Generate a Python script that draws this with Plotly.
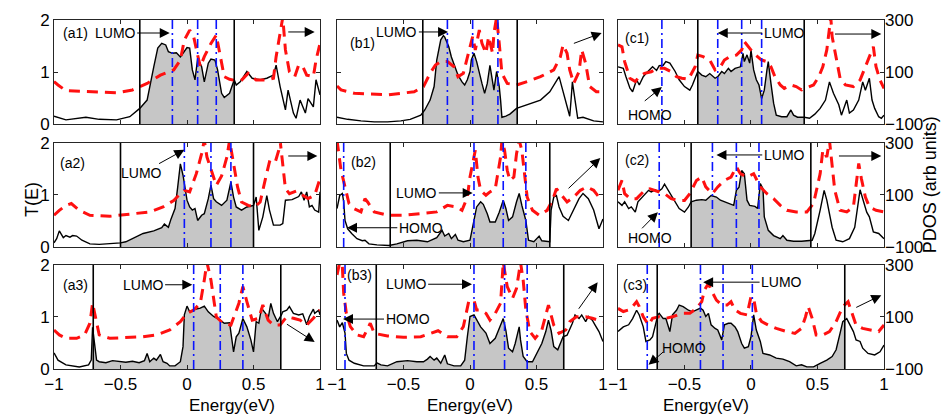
import numpy as np
import plotly.graph_objects as go

# ---------------- data ----------------
# Transmission T(E): energy (eV) and value
a1_energy = [-1.00,-0.91,-0.76,-0.66,-0.53,-0.43,-0.355,-0.30,-0.25,-0.22,-0.19,-0.16,-0.14,-0.11,-0.08,-0.05,-0.03,0.00,0.02,0.04,0.06,0.08,0.11,0.13,0.16,0.18,0.21,0.23,0.26,0.28,0.32,0.355,0.37,0.40,0.45,0.49,0.55,0.60,0.65,0.67,0.70,0.74,0.76,0.80,0.82,0.85,0.89,0.91,0.95,0.97,1.00]
a1_trans = [0.15,0.08,0.13,0.09,0.08,0.14,0.30,0.46,1.10,1.46,1.55,1.52,1.39,1.36,1.37,1.29,1.36,1.47,1.46,1.04,0.85,1.26,1.10,0.81,1.17,1.25,1.23,1.04,0.59,0.51,0.59,0.85,0.75,0.81,1.01,0.88,0.85,0.88,0.94,1.13,0.72,0.27,0.65,0.21,0.11,0.46,0.21,0.49,0.33,0.85,0.56]

a2_energy = [-1.00,-0.98,-0.96,-0.93,-0.91,-0.88,-0.86,-0.83,-0.79,-0.73,-0.66,-0.56,-0.50,-0.46,-0.41,-0.33,-0.25,-0.19,-0.17,-0.14,-0.12,-0.09,-0.07,-0.05,-0.03,-0.02,0.00,0.02,0.04,0.06,0.08,0.11,0.13,0.16,0.18,0.20,0.22,0.26,0.30,0.33,0.35,0.37,0.41,0.45,0.50,0.52,0.54,0.57,0.60,0.62,0.65,0.70,0.72,0.74,0.79,0.84,0.86,0.88,0.90,0.92,0.94,0.96,0.99,1.00]
a2_trans = [0.08,0.16,0.31,0.18,0.22,0.19,0.22,0.21,0.13,0.06,0.05,0.06,0.08,0.10,0.16,0.26,0.31,0.37,0.44,0.38,0.54,0.74,1.15,1.60,1.38,1.22,0.90,0.77,0.71,0.74,0.51,0.61,0.64,0.93,1.19,0.93,0.87,0.80,0.90,1.25,0.96,0.77,0.71,0.77,0.80,0.96,0.32,0.58,0.99,0.71,0.42,0.42,0.45,0.90,0.91,0.97,1.06,0.90,1.06,0.77,0.80,0.71,0.67,1.06]

a3_energy = [-1.00,-0.97,-0.91,-0.81,-0.74,-0.72,-0.71,-0.69,-0.68,-0.66,-0.61,-0.56,-0.51,-0.46,-0.41,-0.36,-0.32,-0.30,-0.28,-0.25,-0.23,-0.20,-0.18,-0.15,-0.13,-0.09,-0.05,-0.03,-0.02,0.00,0.02,0.06,0.10,0.13,0.16,0.20,0.25,0.28,0.32,0.35,0.37,0.39,0.42,0.45,0.48,0.50,0.52,0.54,0.56,0.59,0.61,0.63,0.65,0.68,0.71,0.72,0.75,0.77,0.80,0.84,0.87,0.90,0.92,0.95,0.96,0.99,1.00]
a3_trans = [0.31,0.17,0.08,0.04,0.08,0.17,0.80,0.37,0.17,0.14,0.12,0.16,0.14,0.13,0.15,0.12,0.16,0.30,0.14,0.21,0.17,0.28,0.14,0.11,0.06,0.06,0.14,0.43,1.04,1.21,1.10,1.15,1.17,1.21,1.10,1.01,0.94,0.88,0.89,0.33,0.62,0.69,0.97,0.81,0.56,0.33,0.91,0.88,1.17,1.07,0.97,1.26,1.07,0.91,1.04,1.10,1.13,1.20,1.07,1.04,1.06,0.85,1.01,1.15,1.07,1.13,1.04]

b1_energy = [-1.00,-0.92,-0.82,-0.72,-0.62,-0.52,-0.45,-0.37,-0.34,-0.30,-0.27,-0.25,-0.22,-0.20,-0.19,-0.16,-0.14,-0.11,-0.09,-0.06,-0.04,-0.02,0.00,0.01,0.03,0.05,0.07,0.09,0.11,0.13,0.15,0.17,0.18,0.20,0.22,0.23,0.24,0.27,0.30,0.35,0.43,0.53,0.60,0.65,0.67,0.69,0.72,0.75,0.76,0.77,0.79,0.81,0.85,0.89,0.93,1.00]
b1_trans = [0.13,0.09,0.06,0.04,0.04,0.06,0.09,0.17,0.27,0.46,0.72,1.23,1.62,1.70,1.67,1.49,1.29,1.10,0.94,0.81,0.75,0.85,1.01,1.23,1.36,1.20,0.97,0.78,0.59,0.78,1.13,0.85,0.65,1.01,0.72,0.46,0.13,0.15,0.19,0.30,0.37,0.46,0.62,0.81,0.91,0.72,0.46,0.15,0.46,0.81,0.46,0.11,0.13,0.09,0.06,0.04]

b2_energy = [-1.00,-0.98,-0.96,-0.95,-0.94,-0.92,-0.89,-0.85,-0.81,-0.79,-0.76,-0.70,-0.61,-0.55,-0.47,-0.40,-0.32,-0.25,-0.21,-0.19,-0.16,-0.14,-0.11,-0.09,-0.05,0.00,0.03,0.05,0.08,0.10,0.13,0.15,0.19,0.22,0.25,0.27,0.29,0.32,0.35,0.37,0.39,0.42,0.44,0.48,0.52,0.54,0.60,0.61,0.63,0.65,0.67,0.70,0.74,0.78,0.82,0.85,0.89,0.93,0.97,1.00]
b2_trans = [0.74,0.99,1.03,0.87,0.51,0.35,0.26,0.16,0.12,0.13,0.06,0.04,0.03,0.06,0.12,0.13,0.10,0.18,0.32,0.21,0.26,0.16,0.24,0.13,0.10,0.13,0.51,0.77,0.87,0.82,0.64,0.48,0.48,0.67,0.90,0.74,0.51,0.58,0.87,1.03,0.80,0.51,0.13,0.10,0.21,0.12,0.10,0.71,0.96,0.99,0.77,0.59,0.51,0.71,0.93,1.03,0.93,0.71,0.35,0.54]

b3_energy = [-1.00,-0.98,-0.96,-0.94,-0.93,-0.91,-0.87,-0.80,-0.72,-0.70,-0.67,-0.62,-0.55,-0.47,-0.40,-0.35,-0.32,-0.30,-0.27,-0.25,-0.22,-0.19,-0.17,-0.12,-0.07,-0.04,-0.02,0.00,0.03,0.05,0.08,0.12,0.15,0.19,0.23,0.25,0.27,0.29,0.32,0.34,0.37,0.38,0.40,0.43,0.47,0.50,0.54,0.57,0.59,0.61,0.63,0.66,0.70,0.73,0.77,0.79,0.82,0.84,0.87,0.89,0.92,0.94,0.97,1.00]
b3_trans = [0.94,0.81,0.89,0.69,0.30,0.17,0.11,0.06,0.06,0.12,0.08,0.06,0.14,0.16,0.14,0.14,0.19,0.24,0.17,0.21,0.11,0.27,0.10,0.06,0.06,0.17,0.62,1.01,1.04,0.94,0.81,0.69,0.49,0.59,0.85,0.97,0.74,0.40,0.33,0.49,0.81,0.56,0.24,0.14,0.14,0.30,0.49,0.72,0.94,0.74,0.43,0.37,0.62,0.65,0.88,1.04,0.97,1.04,0.91,1.01,0.94,0.85,0.72,0.53]

c1_energy = [-1.00,-0.96,-0.94,-0.91,-0.89,-0.86,-0.84,-0.81,-0.79,-0.76,-0.74,-0.71,-0.69,-0.66,-0.64,-0.61,-0.57,-0.54,-0.50,-0.46,-0.44,-0.40,-0.37,-0.34,-0.31,-0.27,-0.25,-0.22,-0.20,-0.17,-0.15,-0.12,-0.08,-0.06,-0.05,-0.03,-0.01,0.00,0.02,0.04,0.06,0.08,0.10,0.12,0.13,0.15,0.17,0.19,0.23,0.27,0.30,0.32,0.35,0.40,0.44,0.48,0.52,0.56,0.59,0.62,0.66,0.68,0.72,0.74,0.77,0.81,0.84,0.86,0.89,0.91,0.93,0.96,0.98,1.00]
c1_trans = [1.10,1.07,0.91,0.69,0.62,0.85,0.75,0.91,0.97,1.04,1.10,1.03,1.12,1.13,1.20,1.17,1.01,0.85,0.72,0.65,0.75,1.01,0.94,0.91,0.97,0.88,0.91,1.01,0.97,1.07,1.01,1.07,1.10,1.36,1.20,1.33,1.17,1.42,1.04,0.85,0.75,0.49,0.65,1.04,1.20,0.78,0.40,0.17,0.14,0.14,0.27,0.17,0.13,0.13,0.11,0.19,0.30,0.46,0.81,0.59,0.37,0.17,0.46,0.21,0.27,0.46,0.81,0.65,0.88,0.46,0.30,0.14,0.11,0.17]

c2_energy = [-1.00,-0.97,-0.95,-0.92,-0.90,-0.87,-0.85,-0.81,-0.77,-0.75,-0.72,-0.70,-0.67,-0.65,-0.61,-0.57,-0.54,-0.50,-0.47,-0.45,-0.41,-0.37,-0.34,-0.30,-0.26,-0.23,-0.20,-0.16,-0.13,-0.11,-0.09,-0.07,-0.05,-0.03,-0.01,0.03,0.05,0.07,0.09,0.10,0.13,0.17,0.22,0.24,0.27,0.32,0.38,0.46,0.48,0.52,0.55,0.57,0.61,0.64,0.69,0.74,0.78,0.82,0.84,0.87,0.89,0.92,0.96,1.00]
c2_trans = [0.87,0.80,0.87,0.74,0.77,0.67,0.87,0.99,1.09,1.06,1.10,1.06,1.12,1.21,1.03,0.87,0.74,0.67,0.77,0.87,0.90,0.91,0.90,0.99,0.96,0.90,0.87,0.83,0.80,1.09,1.15,1.47,1.41,0.90,0.80,0.78,0.74,1.22,1.12,0.58,0.32,0.22,0.16,0.22,0.13,0.11,0.11,0.13,0.26,0.71,1.09,0.90,0.38,0.13,0.10,0.16,0.38,1.10,0.93,0.67,0.58,0.29,0.26,0.16]

c3_energy = [-1.00,-0.96,-0.92,-0.89,-0.86,-0.84,-0.81,-0.79,-0.76,-0.74,-0.70,-0.69,-0.66,-0.64,-0.61,-0.59,-0.56,-0.54,-0.51,-0.47,-0.44,-0.41,-0.38,-0.36,-0.34,-0.32,-0.30,-0.27,-0.25,-0.22,-0.20,-0.17,-0.15,-0.12,-0.10,-0.07,-0.05,-0.02,0.00,0.02,0.04,0.07,0.09,0.14,0.19,0.24,0.29,0.34,0.38,0.42,0.47,0.52,0.57,0.61,0.64,0.67,0.69,0.72,0.74,0.77,0.79,0.82,0.84,0.88,0.93,0.97,1.00]
c3_trans = [0.72,0.81,0.85,0.97,1.13,1.04,0.81,0.53,0.56,0.62,1.04,1.07,0.97,0.97,0.72,1.04,1.13,1.23,1.20,1.13,1.10,1.13,1.17,1.13,1.01,1.07,0.85,0.78,0.75,0.56,0.85,0.88,0.88,0.81,0.72,0.49,0.40,0.43,0.62,1.04,0.75,0.53,0.30,0.27,0.21,0.19,0.14,0.06,0.08,0.04,0.04,0.11,0.17,0.24,0.37,0.69,0.91,0.97,0.88,0.72,0.56,0.53,0.40,0.30,0.27,0.33,0.46]

# PDOS (arb units): energy and value
a1_pdos_energy = [-1.00,-0.97,-0.91,-0.76,-0.53,-0.41,-0.30,-0.20,-0.10,-0.05,-0.02,0.02,0.05,0.08,0.10,0.13,0.18,0.22,0.25,0.28,0.32,0.40,0.46,0.52,0.60,0.65,0.67,0.70,0.72,0.74,0.77,0.81,0.84,0.87,0.90,0.95,0.97,1.00]
a1_pdos = [63,50,28,24,20,31,56,88,108,146,223,261,236,165,120,159,210,242,159,82,72,63,95,69,69,76,159,261,310,185,101,82,127,121,88,82,146,210]

a2_pdos_energy = [-1.00,-0.96,-0.91,-0.87,-0.81,-0.73,-0.58,-0.41,-0.28,-0.18,-0.10,-0.05,-0.02,0.02,0.07,0.11,0.13,0.15,0.18,0.22,0.26,0.30,0.32,0.35,0.38,0.41,0.46,0.51,0.55,0.59,0.62,0.66,0.69,0.70,0.72,0.74,0.77,0.82,0.87,0.91,0.96,1.00]
a2_pdos = [22,41,60,67,41,22,18,26,35,54,79,105,118,112,182,259,310,246,195,137,173,246,310,227,131,73,60,54,73,163,227,221,272,310,208,124,105,115,99,86,99,163]

a3_pdos_energy = [-1.00,-0.96,-0.91,-0.83,-0.77,-0.73,-0.71,-0.68,-0.66,-0.58,-0.46,-0.33,-0.23,-0.13,-0.05,0.00,0.05,0.10,0.13,0.15,0.18,0.22,0.27,0.33,0.39,0.42,0.45,0.49,0.54,0.57,0.61,0.65,0.70,0.75,0.80,0.85,0.90,0.95,1.00]
a3_pdos = [50,31,18,18,31,76,153,82,31,18,22,24,31,50,82,114,127,153,242,310,242,101,76,69,153,217,159,88,95,146,88,69,69,101,95,88,69,95,127]

b1_pdos_energy = [-1.00,-0.97,-0.87,-0.62,-0.42,-0.35,-0.30,-0.26,-0.22,-0.17,-0.12,-0.09,-0.05,-0.01,0.02,0.04,0.07,0.09,0.12,0.14,0.17,0.18,0.20,0.22,0.24,0.28,0.35,0.43,0.53,0.63,0.68,0.70,0.73,0.75,0.78,0.82,0.84,0.87,0.90,0.95,1.00]
b1_pdos = [46,31,18,12,24,44,95,127,140,140,120,82,95,172,236,185,261,210,172,236,172,249,310,210,95,56,50,63,82,108,159,204,172,108,56,101,185,133,44,24,24]

b2_pdos_energy = [-1.00,-0.99,-0.97,-0.94,-0.91,-0.87,-0.82,-0.79,-0.77,-0.72,-0.62,-0.50,-0.37,-0.25,-0.17,-0.10,-0.06,-0.02,0.00,0.03,0.04,0.06,0.08,0.12,0.15,0.19,0.23,0.24,0.26,0.28,0.30,0.33,0.35,0.37,0.39,0.41,0.43,0.47,0.52,0.58,0.62,0.65,0.69,0.73,0.78,0.83,0.88,0.93,0.97,1.00]
b2_pdos = [310,272,195,131,67,47,35,86,73,35,22,22,28,35,60,54,41,92,169,246,272,169,118,99,112,124,246,310,272,195,156,169,259,310,272,182,92,41,22,41,79,124,99,73,92,118,131,118,92,79]

b3_pdos_energy = [-1.00,-0.98,-0.96,-0.95,-0.93,-0.90,-0.85,-0.80,-0.75,-0.72,-0.62,-0.50,-0.37,-0.27,-0.24,-0.17,-0.10,-0.05,-0.01,0.03,0.05,0.08,0.12,0.15,0.19,0.23,0.24,0.25,0.28,0.32,0.35,0.38,0.40,0.42,0.45,0.49,0.54,0.59,0.63,0.67,0.72,0.75,0.80,0.87,0.92,0.97,1.00]
b3_pdos = [262,310,294,191,114,63,31,24,76,37,27,22,24,44,47,24,24,63,159,165,127,127,114,88,114,153,255,310,217,172,210,310,242,127,44,18,50,146,69,37,50,82,101,101,95,88,82]

c1_pdos_energy = [-1.00,-0.97,-0.95,-0.91,-0.87,-0.84,-0.80,-0.75,-0.70,-0.65,-0.60,-0.56,-0.52,-0.47,-0.42,-0.40,-0.36,-0.31,-0.27,-0.23,-0.20,-0.16,-0.11,-0.07,-0.05,-0.02,0.02,0.08,0.12,0.15,0.18,0.22,0.25,0.30,0.34,0.38,0.43,0.47,0.51,0.54,0.57,0.59,0.60,0.61,0.64,0.67,0.71,0.77,0.82,0.86,0.89,0.92,0.94,0.97,1.00]
c1_pdos = [204,197,140,76,63,82,95,101,114,114,101,82,76,72,120,165,159,146,108,120,146,159,165,185,217,197,172,146,140,120,82,50,37,50,44,31,41,50,82,120,185,287,310,236,159,76,50,44,69,120,165,197,120,69,37]

c2_pdos_energy = [-1.00,-0.97,-0.95,-0.91,-0.86,-0.81,-0.76,-0.70,-0.65,-0.60,-0.55,-0.50,-0.46,-0.41,-0.37,-0.34,-0.29,-0.25,-0.20,-0.15,-0.11,-0.08,-0.03,0.02,0.07,0.12,0.17,0.22,0.27,0.34,0.42,0.47,0.52,0.54,0.57,0.59,0.61,0.63,0.67,0.72,0.77,0.79,0.81,0.83,0.86,0.89,0.94,1.00]
c2_pdos = [118,156,105,86,86,112,124,112,105,86,79,79,105,156,169,131,105,131,156,169,208,182,169,182,131,105,86,60,41,35,35,67,182,272,246,310,221,118,41,35,54,144,221,163,92,54,41,35]

c3_pdos_energy = [-1.00,-0.96,-0.92,-0.89,-0.86,-0.84,-0.81,-0.77,-0.74,-0.69,-0.64,-0.59,-0.52,-0.46,-0.41,-0.37,-0.35,-0.32,-0.30,-0.26,-0.22,-0.18,-0.15,-0.12,-0.08,-0.03,0.00,0.02,0.04,0.08,0.13,0.19,0.27,0.33,0.38,0.41,0.43,0.46,0.49,0.54,0.59,0.64,0.69,0.73,0.76,0.79,0.84,0.91,0.96,1.00]
c3_pdos = [133,121,127,140,159,140,101,69,95,101,95,101,114,114,133,159,204,229,204,165,146,146,159,127,114,108,178,172,114,82,69,56,44,37,56,101,140,95,31,31,44,82,140,159,114,69,56,50,44,69]

# electrode window (black vertical lines) and molecular orbital energies (blue lines)
a1_window, a2_window, a3_window = [-0.355, 0.355], [-0.50, 0.50], [-0.705, 0.705]
b1_window, b2_window, b3_window = [-0.355, 0.355], [-0.60, 0.60], [-0.705, 0.705]
c1_window, c2_window, c3_window = [-0.40, 0.40], [-0.45, 0.45], [-0.705, 0.705]
a1_orbitals = [-0.11, 0.08, 0.22]
a2_orbitals = [-0.02, 0.18, 0.33]
a3_orbitals = [0.05, 0.25, 0.42]
b1_orbitals = [-0.17, 0.02, 0.21]
b2_orbitals = [-0.95, 0.03, 0.25, 0.42]
b3_orbitals = [-0.94, 0.03, 0.26, 0.43]
c1_orbitals = [-0.67, -0.25, -0.07, 0.08]
c2_orbitals = [-0.69, -0.29, -0.11, 0.06]
c3_orbitals = [-0.78, -0.38, -0.21, 0.01]

x_ticks = [-1, -0.5, 0, 0.5, 1]
x_ticktext = ["\u22121", "\u22120.5", "0", "0.5", "1"]
t_ticks = [0, 1, 2]
pdos_ticks = [-100, 100, 300]
pdos_ticktext = ["\u2212100", "100", "300"]

panels = {
    "a1": (a1_energy, a1_trans, a1_pdos_energy, a1_pdos, a1_window, a1_orbitals),
    "b1": (b1_energy, b1_trans, b1_pdos_energy, b1_pdos, b1_window, b1_orbitals),
    "c1": (c1_energy, c1_trans, c1_pdos_energy, c1_pdos, c1_window, c1_orbitals),
    "a2": (a2_energy, a2_trans, a2_pdos_energy, a2_pdos, a2_window, a2_orbitals),
    "b2": (b2_energy, b2_trans, b2_pdos_energy, b2_pdos, b2_window, b2_orbitals),
    "c2": (c2_energy, c2_trans, c2_pdos_energy, c2_pdos, c2_window, c2_orbitals),
    "a3": (a3_energy, a3_trans, a3_pdos_energy, a3_pdos, a3_window, a3_orbitals),
    "b3": (b3_energy, b3_trans, b3_pdos_energy, b3_pdos, b3_window, b3_orbitals),
    "c3": (c3_energy, c3_trans, c3_pdos_energy, c3_pdos, c3_window, c3_orbitals),
}

# ---------------- layout geometry ----------------
col_dom = [[0.0, 0.3205], [0.341, 0.6614], [0.6795, 1.0]]
row_dom = [[0.702, 1.0], [0.3496, 0.6476], [0.0, 0.298]]
FONT = "Liberation Sans, Arial, Helvetica, sans-serif"
FRAME = "#262626"
TICK_SIZE = 17

fig = go.Figure()
layout = {}
shapes = []
annotations = []

for idx, (name, (E, T, pE, P, win, orbs)) in enumerate(panels.items()):
    k = idx + 1
    r, c = idx // 3, idx % 3
    ks = "" if k == 1 else str(k)
    sk = 9 + k
    E = np.asarray(E, float)
    T = np.asarray(T, float)
    assert len(E) == len(T) and len(pE) == len(P), name

    # gray filled area under T(E) inside the bias window
    lo, hi = win
    inside = (E > lo) & (E < hi)
    fx = np.concatenate([[lo], E[inside], [hi]])
    fy = np.concatenate([[np.interp(lo, E, T)], T[inside], [np.interp(hi, E, T)]])
    fig.add_trace(go.Scatter(x=fx, y=fy, mode="lines", fill="tozeroy",
                             fillcolor="#c6c6c6", line=dict(width=0, color="#c6c6c6"),
                             xaxis="x" + ks, yaxis="y" + ks, showlegend=False,
                             hoverinfo="skip"))
    fig.add_trace(go.Scatter(x=E, y=T, mode="lines", line=dict(color="black", width=1.4),
                             xaxis="x" + ks, yaxis="y" + ks, showlegend=False))
    fig.add_trace(go.Scatter(x=pE, y=P, mode="lines",
                             line=dict(color="#ff1010", width=3, dash="11px,7px"),
                             xaxis="x" + ks, yaxis="y" + str(sk), showlegend=False))

    layout["xaxis" + ks] = dict(
        domain=col_dom[c], anchor="y" + ks, range=[-1, 1],
        tickvals=x_ticks, ticktext=x_ticktext, showticklabels=(r == 2),
        ticks="inside", ticklen=4, tickcolor=FRAME, mirror="ticks",
        showline=True, linecolor=FRAME, linewidth=1, showgrid=False, zeroline=False,
        tickfont=dict(size=TICK_SIZE, color="black", family=FONT))
    layout["yaxis" + ks] = dict(
        domain=row_dom[r], anchor="x" + ks, range=[0, 2],
        tickvals=t_ticks, showticklabels=(c == 0),
        ticks="inside", ticklen=4, tickcolor=FRAME, mirror="ticks",
        showline=True, linecolor=FRAME, linewidth=1, showgrid=False, zeroline=False,
        tickfont=dict(size=TICK_SIZE, color="black", family=FONT))
    layout["yaxis" + str(sk)] = dict(
        overlaying="y" + ks, anchor="x" + ks, side="right", range=[-100, 300],
        tickvals=pdos_ticks, ticktext=pdos_ticktext, showticklabels=(c == 2),
        ticks="", showline=False, showgrid=False, zeroline=False,
        tickfont=dict(size=TICK_SIZE, color="black", family=FONT))

    for xv in win:
        shapes.append(dict(type="line", xref="x" + ks, yref="y" + ks + " domain",
                           x0=xv, x1=xv, y0=0, y1=1,
                           line=dict(color="black", width=1.6)))
    for xv in orbs:
        shapes.append(dict(type="line", xref="x" + ks, yref="y" + ks + " domain",
                           x0=xv, x1=xv, y0=0, y1=1,
                           line=dict(color="#0a14ff", width=1.6, dash="9px,4px,2px,4px")))

# ---------------- annotations ----------------
axis_of = {n: i + 1 for i, n in enumerate(panels)}
ANN_SIZE = 14


def refs(name):
    k = axis_of[name]
    ks = "" if k == 1 else str(k)
    return "x" + ks, "y" + ks


def label(name, text, x, y):
    xr, yr = refs(name)
    annotations.append(dict(xref=xr, yref=yr, x=x, y=y, text=text, showarrow=False,
                            font=dict(size=ANN_SIZE, color="black", family=FONT)))


def arrow(name, x, y, ax, ay, text=""):
    xr, yr = refs(name)
    annotations.append(dict(xref=xr, yref=yr, axref=xr, ayref=yr, x=x, y=y, ax=ax, ay=ay,
                            text=text, showarrow=True, arrowhead=2, arrowsize=2.0,
                            arrowwidth=1, arrowcolor="black", standoff=0,
                            font=dict(size=ANN_SIZE, color="black", family=FONT)))


label("a1", "(a1)", -0.84, 1.75)
arrow("a1", -0.13, 1.75, -0.54, 1.75, "LUMO")
arrow("a1", 0.96, 1.77, 0.75, 1.77)

label("a2", "(a2)", -0.86, 1.62)
arrow("a2", -0.02, 1.87, -0.34, 1.42, "LUMO")
arrow("a2", 0.98, 1.75, 0.75, 1.75)

label("a3", "(a3)", -0.84, 1.62)
arrow("a3", 0.04, 1.62, -0.33, 1.62, "LUMO")
arrow("a3", 0.96, 0.52, 0.74, 0.88)

label("b1", "(b1)", -0.81, 1.56)
arrow("b1", -0.165, 1.77, -0.55, 1.77, "LUMO")
arrow("b1", 0.99, 1.75, 0.77, 1.54)

label("b2", "(b2)", -0.80, 1.63)
arrow("b2", 0.02, 1.04, -0.40, 1.04, "LUMO")
arrow("b2", -0.925, 0.37, -0.37, 0.37, "HOMO")
arrow("b2", 0.98, 1.71, 0.73, 1.10)

label("b3", "(b3)", -0.83, 1.81)
arrow("b3", 0.015, 1.63, -0.48, 1.63, "LUMO")
arrow("b3", -0.955, 0.96, -0.47, 0.96, "HOMO")
arrow("b3", 0.96, 1.67, 0.81, 1.13)

label("c1", "(c1)", -0.86, 1.65)
label("c1", "HOMO", -0.76, 0.17)
arrow("c1", -0.67, 0.71, -0.81, 0.42)
arrow("c1", -0.25, 1.75, 0.25, 1.75, "LUMO")
arrow("c1", 0.98, 1.73, 0.62, 1.73)

label("c2", "(c2)", -0.86, 1.67)
label("c2", "HOMO", -0.76, 0.17)
arrow("c2", -0.70, 0.67, -0.83, 0.33)
arrow("c2", -0.26, 1.77, 0.25, 1.77, "LUMO")
arrow("c2", 0.98, 1.75, 0.65, 1.75)

label("c3", "(c3)", -0.87, 1.62)
arrow("c3", -0.36, 1.67, 0.23, 1.67, "LUMO")
label("c3", "HOMO", -0.50, 0.40)
arrow("c3", -0.77, 0.08, -0.65, 0.35)
arrow("c3", 0.98, 1.42, 0.78, 1.17)

# axis titles
for dom in col_dom:
    annotations.append(dict(xref="paper", yref="paper", x=(dom[0] + dom[1]) / 2, y=-0.106,
                            text="Energy(eV)", showarrow=False, yanchor="middle",
                            font=dict(size=17, color="black", family=FONT)))
annotations.append(dict(xref="paper", yref="paper", x=-0.041, y=0.487, text="T(E)",
                        textangle=-90, showarrow=False,
                        font=dict(size=18, color="black", family=FONT)))
annotations.append(dict(xref="paper", yref="paper", x=1.070, y=0.527, text="PDOS (arb units)",
                        textangle=-90, showarrow=False,
                        font=dict(size=18, color="black", family=FONT)))

# the page body adds an 8 px offset, so the figure is 8 px smaller each way
fig.update_layout(
    width=942, height=409,
    margin=dict(l=46, r=66, t=12, b=48, autoexpand=False),
    paper_bgcolor="white", plot_bgcolor="white",
    showlegend=False, shapes=shapes, annotations=annotations,
    font=dict(family=FONT, color="black"),
    **layout,
)

fig.write_html("out.html")
